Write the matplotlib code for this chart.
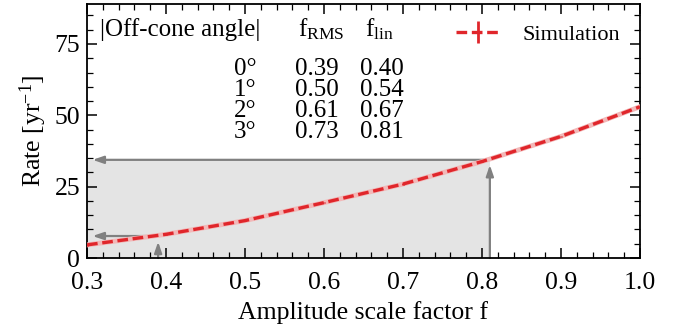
import numpy as np
import matplotlib.pyplot as plt

plt.rcParams['font.family'] = ['Liberation Serif', 'DejaVu Serif']
plt.rcParams['mathtext.fontset'] = 'custom'
plt.rcParams['mathtext.rm'] = 'Liberation Serif'
plt.rcParams['mathtext.it'] = 'Liberation Serif:italic'
plt.rcParams['font.size'] = 18.5

# simulated rate vs amplitude scale factor
f_sim = [0.3, 0.4, 0.5, 0.6, 0.7, 0.8, 0.9, 1.0]
rate_sim = [4.6, 8.3, 13.1, 19.4, 25.9, 33.8, 42.6, 53.0]
rate_err = [0.3, 0.3, 0.3, 0.3, 0.3, 0.3, 0.3, 0.3]

# table of scale factors per off-cone angle
angles = ['0°', '1°', '2°', '3°']
f_rms = ['0.39', '0.50', '0.61', '0.73']
f_lin = ['0.40', '0.54', '0.67', '0.81']

# highlighted range
f_low, rate_low = 0.39, 7.7
f_high, rate_high = 0.81, 34.4

fig = plt.figure(figsize=(6.99, 3.29), dpi=100)
ax = fig.add_axes([0.1245, 0.2158, 0.791, 0.772])

ax.fill_between([0.3, f_high], 0, rate_high, color='#e4e4e4', lw=0, zorder=1)

gray = '#808080'
arr = dict(arrowstyle='-|>,head_length=0.35,head_width=0.12', color=gray, lw=1.6, shrinkA=0, shrinkB=0)
ax.annotate('', xy=(0.307, rate_high), xytext=(f_high, rate_high), arrowprops=arr, zorder=2)
ax.annotate('', xy=(0.307, rate_low), xytext=(f_low, rate_low), arrowprops=arr, zorder=2)
ax.annotate('', xy=(f_high, 32.6), xytext=(f_high, 0), arrowprops=arr, zorder=2)
ax.annotate('', xy=(f_low, 5.7), xytext=(f_low, 0), arrowprops=arr, zorder=2)

ax.plot(f_sim, rate_sim, color='#f2b8b8', lw=3.5, zorder=3)
ax.errorbar(f_sim, rate_sim, yerr=rate_err, color='#e0262b', ls='--', lw=2.4,
            dashes=(3.2, 1.4), elinewidth=2.0, capsize=0, zorder=4, label='Simulation')

ax.set_xlim(0.3, 1.0)
ax.set_ylim(0, 89)
ax.set_xticks([0.3, 0.4, 0.5, 0.6, 0.7, 0.8, 0.9, 1.0])
ax.set_yticks([0, 25, 50, 75])
ax.set_xticks(np.arange(0.3, 1.001, 0.02), minor=True)
ax.set_yticks(np.arange(0, 89, 5), minor=True)
ax.tick_params(which='both', direction='in', top=True, right=True)
ax.tick_params(which='major', length=7, width=1.1, pad=5)
ax.tick_params(axis='x', which='major', pad=10)
ax.tick_params(which='minor', length=4, width=0.9)
for s in ax.spines.values():
    s.set_linewidth(1.3)

ax.set_xlabel('Amplitude scale factor f', labelpad=5)
ax.set_ylabel('Rate [yr$^{-1}$]', labelpad=4)

# table
fs = 18
ax.text(0.3165, 77.8, '|Off-cone angle|', fontsize=fs)
ax.text(0.567, 77.8, 'f$_{\\rm RMS}$', fontsize=fs)
ax.text(0.652, 77.8, 'f$_{\\rm lin}$', fontsize=fs)
rows_y = [64.1, 56.8, 49.4, 41.9]
for a, r, l, yy in zip(angles, f_rms, f_lin, rows_y):
    ax.text(0.515, yy, a, ha='right', fontsize=fs)
    ax.text(0.619, yy, r, ha='right', fontsize=fs)
    ax.text(0.701, yy, l, ha='right', fontsize=fs)

ax.legend(loc='upper right', frameon=False, fontsize=16, handlelength=2.0, handletextpad=1.0,
          borderaxespad=0.5, borderpad=0.4)

fig.savefig('out.png', dpi=100)
